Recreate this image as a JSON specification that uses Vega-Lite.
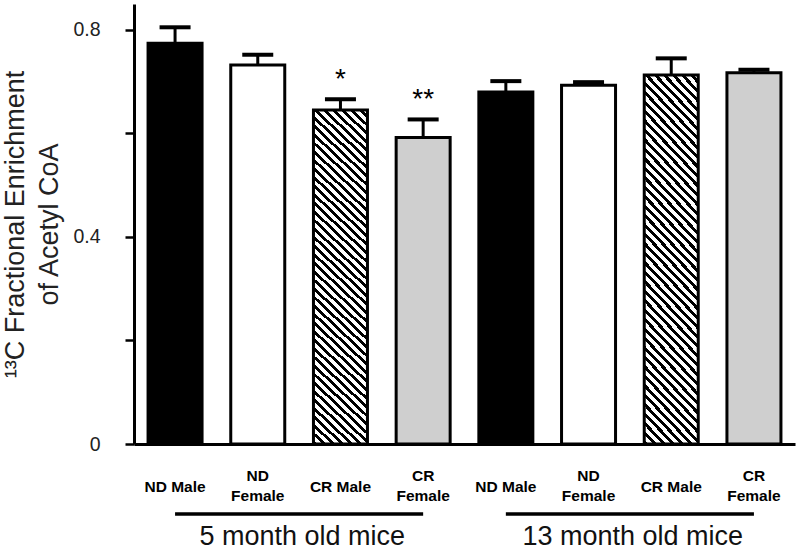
{
"$schema": "https://vega.github.io/schema/vega-lite/v6.json",
"width": 661, "height": 440,
"autosize": {"type": "none"},
"padding": {"left": 134, "top": 4, "right": 5, "bottom": 107},
"background": "white",
"config": {"view": {"stroke": null}, "font": "Liberation Sans"},
"datasets": {
 "bars": [
  {"slot":"5mo ND Male","kind":"ND Male","mean":0.774,"err":0.805,"sig":""},
  {"slot":"5mo ND Female","kind":"ND Female","mean":0.732,"err":0.752,"sig":""},
  {"slot":"5mo CR Male","kind":"CR Male","mean":0.645,"err":0.666,"sig":"*"},
  {"slot":"5mo CR Female","kind":"CR Female","mean":0.592,"err":0.627,"sig":"**"},
  {"slot":"13mo ND Male","kind":"ND Male","mean":0.680,"err":0.701,"sig":""},
  {"slot":"13mo ND Female","kind":"ND Female","mean":0.693,"err":0.699,"sig":""},
  {"slot":"13mo CR Male","kind":"CR Male","mean":0.713,"err":0.745,"sig":""},
  {"slot":"13mo CR Female","kind":"CR Female","mean":0.717,"err":0.723,"sig":""}
 ],
 "groups": [
  {"age":"5 month old mice","slot":"5mo ND Male","slot2":"5mo CR Female"},
  {"age":"13 month old mice","slot":"13mo ND Male","slot2":"13mo CR Female"}
 ]
},
"layer": [
 {
  "data": {"name": "bars"},
  "encoding": {
   "x": {"field": "slot", "type": "nominal",
    "scale": {"domain": ["5mo ND Male","5mo ND Female","5mo CR Male","5mo CR Female","13mo ND Male","13mo ND Female","13mo CR Male","13mo CR Female"], "paddingInner": 0.347, "paddingOuter": 0.17},
    "axis": {"title": null, "ticks": false, "tickSize": 0, "domainColor": "#000", "domainWidth": 3,
     "labelExpr": "split(replace(slice(datum.label, indexof(datum.label, ' ') + 1), ' Female', '|Female'), '|')",
     "labelFontSize": 15.5, "labelFontWeight": "bold", "labelColor": "#000", "labelBaseline": "middle",
     "labelPadding": {"condition": {"test": "indexof(datum.label, 'Female') >= 0", "value": 31}, "value": 42},
     "labelLineHeight": 20, "labelAngle": 0, "labelOverlap": false, "labelBound": false}}
  },
  "layer": [
   {
    "mark": {"type": "bar", "stroke": "#000", "strokeWidth": 3},
    "encoding": {
     "y": {"field": "mean", "type": "quantitative", "scale": {"domain": [0, 0.85], "nice": false, "zero": true},
      "axis": {"values": [0, 0.2, 0.4, 0.6, 0.8],
       "labelExpr": "datum.value == 0.2 || datum.value == 0.6 ? '' : (datum.value == 0 ? '0' : format(datum.value, '.1f'))",
       "grid": false, "domainColor": "#000", "domainWidth": 3, "tickColor": "#000", "tickWidth": 2.5, "tickSize": 9,
       "labelFontSize": 19.5, "labelColor": "#222", "labelPadding": 25,
       "title": ["¹³C Fractional Enrichment", "of Acetyl CoA"], "titleFontSize": 27, "titleFontWeight": "normal",
       "titleColor": "#222", "titlePadding": 9, "titleLineHeight": 34}},
     "fill": {
      "condition": [
       {"test": "datum.kind === 'ND Male'", "value": "#000"},
       {"test": "datum.kind === 'ND Female'", "value": "#fff"},
       {"test": "datum.kind === 'CR Female'", "value": "#cfcfcf"}
      ],
      "value": {"gradient": "linear", "x1": 0, "y1": 1, "x2": 0.1729, "y2": -0.1268, "stops": [
{"offset":0,"color":"#000"},{"offset":0.01,"color":"#000"},{"offset":0.01,"color":"#fff"},{"offset":0.0222,"color":"#fff"},
{"offset":0.0222,"color":"#000"},{"offset":0.0322,"color":"#000"},{"offset":0.0322,"color":"#fff"},{"offset":0.0444,"color":"#fff"},
{"offset":0.0444,"color":"#000"},{"offset":0.0544,"color":"#000"},{"offset":0.0544,"color":"#fff"},{"offset":0.0667,"color":"#fff"},
{"offset":0.0667,"color":"#000"},{"offset":0.0767,"color":"#000"},{"offset":0.0767,"color":"#fff"},{"offset":0.0889,"color":"#fff"},
{"offset":0.0889,"color":"#000"},{"offset":0.0989,"color":"#000"},{"offset":0.0989,"color":"#fff"},{"offset":0.1111,"color":"#fff"},
{"offset":0.1111,"color":"#000"},{"offset":0.1211,"color":"#000"},{"offset":0.1211,"color":"#fff"},{"offset":0.1333,"color":"#fff"},
{"offset":0.1333,"color":"#000"},{"offset":0.1433,"color":"#000"},{"offset":0.1433,"color":"#fff"},{"offset":0.1556,"color":"#fff"},
{"offset":0.1556,"color":"#000"},{"offset":0.1656,"color":"#000"},{"offset":0.1656,"color":"#fff"},{"offset":0.1778,"color":"#fff"},
{"offset":0.1778,"color":"#000"},{"offset":0.1878,"color":"#000"},{"offset":0.1878,"color":"#fff"},{"offset":0.2,"color":"#fff"},
{"offset":0.2,"color":"#000"},{"offset":0.21,"color":"#000"},{"offset":0.21,"color":"#fff"},{"offset":0.2222,"color":"#fff"},
{"offset":0.2222,"color":"#000"},{"offset":0.2322,"color":"#000"},{"offset":0.2322,"color":"#fff"},{"offset":0.2444,"color":"#fff"},
{"offset":0.2444,"color":"#000"},{"offset":0.2544,"color":"#000"},{"offset":0.2544,"color":"#fff"},{"offset":0.2667,"color":"#fff"},
{"offset":0.2667,"color":"#000"},{"offset":0.2767,"color":"#000"},{"offset":0.2767,"color":"#fff"},{"offset":0.2889,"color":"#fff"},
{"offset":0.2889,"color":"#000"},{"offset":0.2989,"color":"#000"},{"offset":0.2989,"color":"#fff"},{"offset":0.3111,"color":"#fff"},
{"offset":0.3111,"color":"#000"},{"offset":0.3211,"color":"#000"},{"offset":0.3211,"color":"#fff"},{"offset":0.3333,"color":"#fff"},
{"offset":0.3333,"color":"#000"},{"offset":0.3433,"color":"#000"},{"offset":0.3433,"color":"#fff"},{"offset":0.3556,"color":"#fff"},
{"offset":0.3556,"color":"#000"},{"offset":0.3656,"color":"#000"},{"offset":0.3656,"color":"#fff"},{"offset":0.3778,"color":"#fff"},
{"offset":0.3778,"color":"#000"},{"offset":0.3878,"color":"#000"},{"offset":0.3878,"color":"#fff"},{"offset":0.4,"color":"#fff"},
{"offset":0.4,"color":"#000"},{"offset":0.41,"color":"#000"},{"offset":0.41,"color":"#fff"},{"offset":0.4222,"color":"#fff"},
{"offset":0.4222,"color":"#000"},{"offset":0.4322,"color":"#000"},{"offset":0.4322,"color":"#fff"},{"offset":0.4444,"color":"#fff"},
{"offset":0.4444,"color":"#000"},{"offset":0.4544,"color":"#000"},{"offset":0.4544,"color":"#fff"},{"offset":0.4667,"color":"#fff"},
{"offset":0.4667,"color":"#000"},{"offset":0.4767,"color":"#000"},{"offset":0.4767,"color":"#fff"},{"offset":0.4889,"color":"#fff"},
{"offset":0.4889,"color":"#000"},{"offset":0.4989,"color":"#000"},{"offset":0.4989,"color":"#fff"},{"offset":0.5111,"color":"#fff"},
{"offset":0.5111,"color":"#000"},{"offset":0.5211,"color":"#000"},{"offset":0.5211,"color":"#fff"},{"offset":0.5333,"color":"#fff"},
{"offset":0.5333,"color":"#000"},{"offset":0.5433,"color":"#000"},{"offset":0.5433,"color":"#fff"},{"offset":0.5556,"color":"#fff"},
{"offset":0.5556,"color":"#000"},{"offset":0.5656,"color":"#000"},{"offset":0.5656,"color":"#fff"},{"offset":0.5778,"color":"#fff"},
{"offset":0.5778,"color":"#000"},{"offset":0.5878,"color":"#000"},{"offset":0.5878,"color":"#fff"},{"offset":0.6,"color":"#fff"},
{"offset":0.6,"color":"#000"},{"offset":0.61,"color":"#000"},{"offset":0.61,"color":"#fff"},{"offset":0.6222,"color":"#fff"},
{"offset":0.6222,"color":"#000"},{"offset":0.6322,"color":"#000"},{"offset":0.6322,"color":"#fff"},{"offset":0.6444,"color":"#fff"},
{"offset":0.6444,"color":"#000"},{"offset":0.6544,"color":"#000"},{"offset":0.6544,"color":"#fff"},{"offset":0.6667,"color":"#fff"},
{"offset":0.6667,"color":"#000"},{"offset":0.6767,"color":"#000"},{"offset":0.6767,"color":"#fff"},{"offset":0.6889,"color":"#fff"},
{"offset":0.6889,"color":"#000"},{"offset":0.6989,"color":"#000"},{"offset":0.6989,"color":"#fff"},{"offset":0.7111,"color":"#fff"},
{"offset":0.7111,"color":"#000"},{"offset":0.7211,"color":"#000"},{"offset":0.7211,"color":"#fff"},{"offset":0.7333,"color":"#fff"},
{"offset":0.7333,"color":"#000"},{"offset":0.7433,"color":"#000"},{"offset":0.7433,"color":"#fff"},{"offset":0.7556,"color":"#fff"},
{"offset":0.7556,"color":"#000"},{"offset":0.7656,"color":"#000"},{"offset":0.7656,"color":"#fff"},{"offset":0.7778,"color":"#fff"},
{"offset":0.7778,"color":"#000"},{"offset":0.7878,"color":"#000"},{"offset":0.7878,"color":"#fff"},{"offset":0.8,"color":"#fff"},
{"offset":0.8,"color":"#000"},{"offset":0.81,"color":"#000"},{"offset":0.81,"color":"#fff"},{"offset":0.8222,"color":"#fff"},
{"offset":0.8222,"color":"#000"},{"offset":0.8322,"color":"#000"},{"offset":0.8322,"color":"#fff"},{"offset":0.8444,"color":"#fff"},
{"offset":0.8444,"color":"#000"},{"offset":0.8544,"color":"#000"},{"offset":0.8544,"color":"#fff"},{"offset":0.8667,"color":"#fff"},
{"offset":0.8667,"color":"#000"},{"offset":0.8767,"color":"#000"},{"offset":0.8767,"color":"#fff"},{"offset":0.8889,"color":"#fff"},
{"offset":0.8889,"color":"#000"},{"offset":0.8989,"color":"#000"},{"offset":0.8989,"color":"#fff"},{"offset":0.9111,"color":"#fff"},
{"offset":0.9111,"color":"#000"},{"offset":0.9211,"color":"#000"},{"offset":0.9211,"color":"#fff"},{"offset":0.9333,"color":"#fff"},
{"offset":0.9333,"color":"#000"},{"offset":0.9433,"color":"#000"},{"offset":0.9433,"color":"#fff"},{"offset":0.9556,"color":"#fff"},
{"offset":0.9556,"color":"#000"},{"offset":0.9656,"color":"#000"},{"offset":0.9656,"color":"#fff"},{"offset":0.9778,"color":"#fff"},
{"offset":0.9778,"color":"#000"},{"offset":0.9878,"color":"#000"},{"offset":0.9878,"color":"#fff"},{"offset":1,"color":"#fff"}
      ]}
     }
    }
   },
   {
    "mark": {"type": "rule", "color": "#000", "strokeWidth": 3},
    "encoding": {
     "y": {"field": "mean", "type": "quantitative"},
     "y2": {"field": "err"}
    }
   },
   {
    "mark": {"type": "tick", "color": "#000", "size": 31, "thickness": 4, "opacity": 1},
    "encoding": {
     "y": {"field": "err", "type": "quantitative"}
    }
   },
   {
    "mark": {"type": "text", "color": "#000", "fontSize": 28, "baseline": "alphabetic", "dy": -11},
    "encoding": {
     "y": {"field": "err", "type": "quantitative"},
     "text": {"field": "sig"}
    }
   },
   {
    "data": {"name": "groups"},
    "mark": {"type": "rule", "color": "#000", "strokeWidth": 3.5},
    "encoding": {
     "x2": {"field": "slot2"},
     "y": {"datum": -0.135, "type": "quantitative"}
    }
   }
  ]
 },
 {
  "data": {"name": "groups"},
  "mark": {"type": "text", "color": "#111", "fontSize": 27, "baseline": "alphabetic", "dx": 3},
  "encoding": {
   "x": {"field": "age", "type": "nominal", "scale": {"domain": ["5 month old mice", "13 month old mice"], "paddingInner": 0.09, "paddingOuter": 0}, "axis": null},
   "y": {"datum": -0.195, "type": "quantitative"},
   "text": {"field": "age"}
  }
 }
],
"resolve": {"scale": {"x": "independent"}}
}
